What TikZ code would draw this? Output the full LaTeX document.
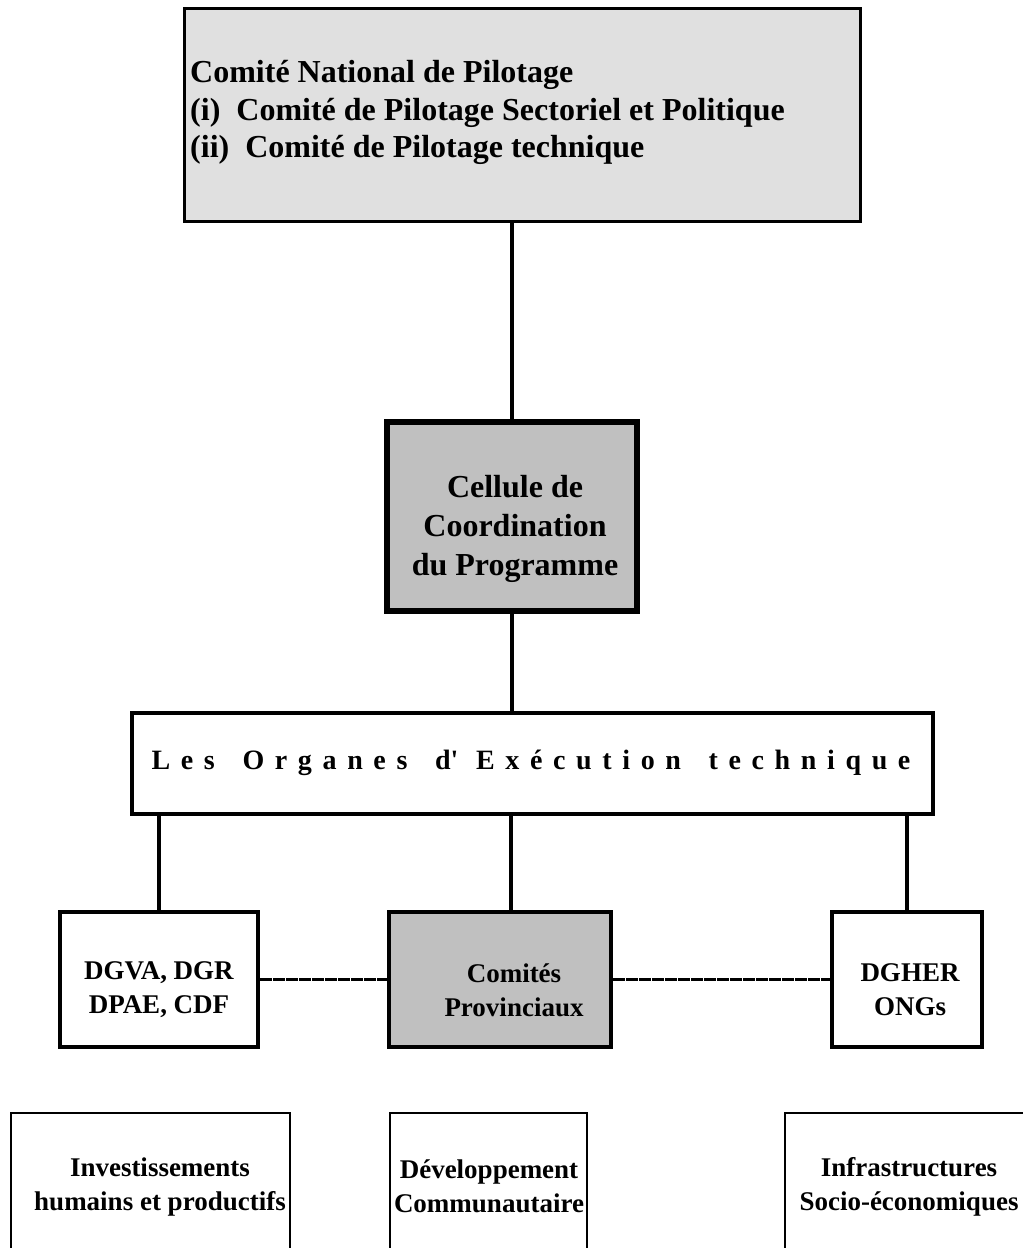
\documentclass[tikz,border=0pt]{standalone}
\usepackage{fontspec}
\setmainfont{Liberation Serif}
\definecolor{lightfill}{HTML}{E0E0E0}
\definecolor{midfill}{HTML}{C0C0C0}
\tikzset{
  box/.style={draw=black, fill=white, inner sep=0pt},
  lbl/.style={align=center, inner sep=0pt, font=\bfseries\fontsize{27}{34}\selectfont},
  conn/.style={line width=3.5pt},
  dotconn/.style={line width=3pt, dash pattern=on 12pt off 1pt},
}
\begin{document}
\begin{tikzpicture}[x=1pt,y=-1pt]
\clip (0,0) rectangle (1023,1248);
\fill[white] (0,0) rectangle (1023,1248);

% boxes
\node[box, fill=lightfill, line width=3pt, minimum width=676pt, minimum height=213pt] (top) at (522,114.5) {};
\node[box, fill=midfill, line width=6pt, minimum width=250pt, minimum height=189pt] (cell) at (512,516.5) {};
\node[box, line width=4pt, minimum width=801pt, minimum height=101pt] (org) at (532.5,763.5) {};
\node[box, line width=4pt, minimum width=198pt, minimum height=135pt] (dgva) at (159,979.5) {};
\node[box, fill=midfill, line width=4pt, minimum width=222pt, minimum height=135pt] (com) at (500,979.5) {};
\node[box, line width=4pt, minimum width=150pt, minimum height=135pt] (dgher) at (907,979.5) {};
\node[box, line width=2.5pt, minimum width=279pt, minimum height=187pt] (b1) at (150.5,1206.5) {};
\node[box, line width=2.5pt, minimum width=197pt, minimum height=187pt] (b2) at (488.5,1206.5) {};
\node[box, line width=2.5pt, minimum width=295pt, minimum height=187pt] (b3) at (932.5,1206.5) {};

% texts
\node[inner sep=0pt, anchor=west, align=left, font=\bfseries\fontsize{32}{37.5}\selectfont] (toptext) at (190,112.5)
  {Comité National de Pilotage\\(i)\ \ Comité de Pilotage Sectoriel et Politique\\(ii)\ \ Comité de Pilotage technique};
\node[lbl, font=\bfseries\fontsize{32}{39}\selectfont] (celltext) at (515,529) {Cellule de\\Coordination\\du Programme};
\node[inner sep=0pt, font=\bfseries\fontsize{28}{34}\selectfont\addfontfeature{LetterSpace=38}] (orgtext) at (531,763)
  {Les\hspace{10pt} Organes\hspace{10pt} d\textquotesingle{} Exécution\hspace{10pt} technique};
\node[lbl] (dgvatext) at (159,990) {DGVA, DGR\\DPAE, CDF};
\node[lbl] (comtext) at (514,990) {Comités\\Provinciaux};
\node[lbl] (dghertext) at (910,990) {DGHER\\ONGs};
\node[lbl] (b1text) at (160,1186.5) {Investissements\\humains et productifs};
\node[lbl] (b2text) at (489,1186.5) {Développement\\Communautaire};
\node[lbl] (b3text) at (909,1186.5) {Infrastructures\\Socio-économiques};

% connectors
\draw[conn] (cell.north |- top.south) -- (cell.north);
\draw[conn] (cell.south) -- (cell.south |- org.north);
\draw[conn] (dgva.north |- org.south) -- (dgva.north);
\draw[conn] ([xshift=11pt]com.north |- org.south) -- ([xshift=11pt]com.north);
\draw[conn] (dgher.north |- org.south) -- (dgher.north);
\draw[dotconn] (dgva.east) -- (com.west);
\draw[dotconn] (com.east) -- (dgher.west);
\end{tikzpicture}
\end{document}
